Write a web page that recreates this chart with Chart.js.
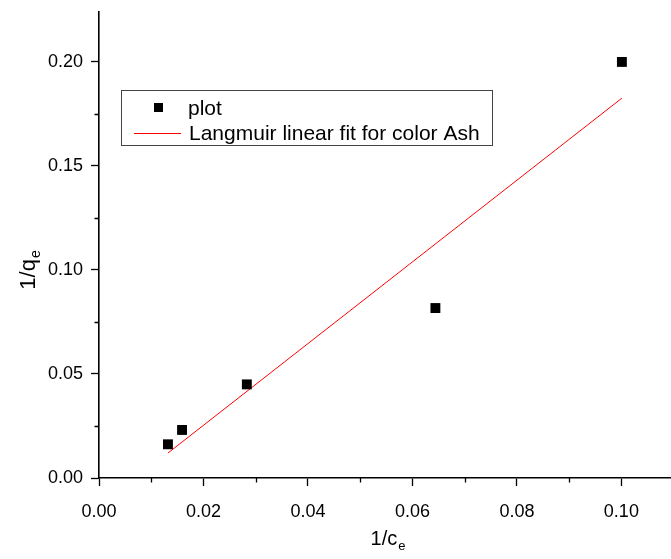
<!DOCTYPE html>
<html lang="en">
<head>
<meta charset="UTF-8">
<title>Langmuir linear fit for color Ash</title>
<script src="https://cdn.jsdelivr.net/npm/chart.js"></script>
<style>
  body { margin: 0; background: #fff; }
  #wrap { width: 671px; height: 559px; }
</style>
</head>
<body>
<div id="wrap"><canvas id="myChart"></canvas></div>
<script>
  // values
  const plotX = [0.0132, 0.0159, 0.0283, 0.0644, 0.1001];
  const plotY = [0.0162, 0.0231, 0.0450, 0.0817, 0.2000];
  const fitX = [0.0132, 0.1001];
  const fitY = [0.0120, 0.1826];

  const xTicks = [0, 0.02, 0.04, 0.06, 0.08, 0.10];
  const yTicks = [0, 0.05, 0.10, 0.15, 0.20];
  const xMinor = [0.01, 0.03, 0.05, 0.07, 0.09];
  const yMinor = [0.025, 0.075, 0.125, 0.175];

  const FONT = "'Liberation Sans', Arial, sans-serif";
  Chart.defaults.font.family = FONT;
  Chart.defaults.color = '#000';

  // keep the plot area fixed: no extra room for half-labels
  function noPad(s) {
    s.paddingLeft = 0; s.paddingRight = 0;
    s.paddingTop = 0; s.paddingBottom = 0;
  }

  const minorTicks = {
    id: 'minorTicks',
    afterDraw(chart) {
      const ctx = chart.ctx;
      const xs = chart.scales.x, ys = chart.scales.y;
      ctx.save();
      ctx.strokeStyle = '#000';
      ctx.lineWidth = 1.3;
      ctx.beginPath();
      xMinor.forEach(v => {
        const px = Math.round(xs.getPixelForValue(v)) + 0.5;
        ctx.moveTo(px, xs.top);
        ctx.lineTo(px, xs.top + 4.5);
      });
      yMinor.forEach(v => {
        const py = Math.round(ys.getPixelForValue(v)) + 0.5;
        ctx.moveTo(ys.right, py);
        ctx.lineTo(ys.right - 4.5, py);
      });
      ctx.stroke();
      ctx.restore();
    }
  };

  const axisTitles = {
    id: 'axisTitles',
    afterDraw(chart) {
      const ctx = chart.ctx;
      const area = chart.chartArea;
      ctx.save();
      ctx.fillStyle = '#000';
      ctx.textBaseline = 'alphabetic';
      ctx.textAlign = 'left';

      // x title: 1/c with subscript e
      ctx.font = '20px ' + FONT;
      const wx = ctx.measureText('1/c').width;
      ctx.font = '13px ' + FONT;
      const wsx = ctx.measureText('e').width;
      const cx = 388 - (wx + wsx + 1) / 2;
      const by = area.bottom + 67;
      ctx.font = '20px ' + FONT;
      ctx.fillText('1/c', cx, by);
      ctx.font = '13px ' + FONT;
      ctx.fillText('e', cx + wx + 1, by + 5);

      // y title: 1/q with subscript e, rotated
      ctx.translate(35, 270);
      ctx.rotate(-Math.PI / 2);
      ctx.font = '22px ' + FONT;
      const wy = ctx.measureText('1/q').width;
      ctx.font = '14px ' + FONT;
      const wsy = ctx.measureText('e').width;
      const sx = -(wy + wsy + 1) / 2;
      ctx.font = '22px ' + FONT;
      ctx.fillText('1/q', sx, 0);
      ctx.font = '14px ' + FONT;
      ctx.fillText('e', sx + wy + 1, 5);
      ctx.restore();
    }
  };

  const boxLegend = {
    id: 'boxLegend',
    afterDraw(chart) {
      const ctx = chart.ctx;
      const ds = chart.data.datasets;
      ctx.save();
      ctx.strokeStyle = '#444';
      ctx.lineWidth = 1;
      ctx.strokeRect(121.5, 90.5, 371, 55);

      // row 1: square marker
      ctx.fillStyle = '#000';
      ctx.fillRect(154, 103, 9, 9);
      ctx.font = '21px ' + FONT;
      ctx.textBaseline = 'alphabetic';
      ctx.fillText(ds[0].label, 188, 115);

      // row 2: red line
      ctx.strokeStyle = ds[1].borderColor;
      ctx.beginPath();
      ctx.moveTo(134, 133.5);
      ctx.lineTo(181, 133.5);
      ctx.stroke();
      ctx.fillText(ds[1].label, 189, 139.5);
      ctx.restore();
    }
  };

  const ctx = document.getElementById('myChart');
  new Chart(ctx, {
    type: 'scatter',
    data: {
      datasets: [
        {
          label: 'plot',
          data: plotX.map((x, i) => ({ x: x, y: plotY[i] })),
          pointStyle: 'rect',
          pointRadius: 7,
          pointHoverRadius: 7,
          backgroundColor: '#000',
          borderColor: '#000',
          pointBorderWidth: 0
        },
        {
          label: 'Langmuir linear fit for color Ash',
          data: fitX.map((x, i) => ({ x: x, y: fitY[i] })),
          showLine: true,
          pointRadius: 0,
          borderColor: '#ff0000',
          borderWidth: 1
        }
      ]
    },
    options: {
      responsive: true,
      maintainAspectRatio: false,
      animation: false,
      layout: { autoPadding: false, padding: { top: 12, right: 0, left: 0, bottom: 0 } },
      plugins: {
        legend: { display: false },
        tooltip: { enabled: false }
      },
      scales: {
        x: {
          type: 'linear',
          min: 0,
          max: 0.1095,
          afterBuildTicks: s => { s.ticks = xTicks.map(v => ({ value: v })); },
          afterFit: s => { s.height = 81; noPad(s); },
          ticks: {
            callback: v => v.toFixed(2),
            font: { size: 18 },
            padding: 15,
            maxRotation: 0
          },
          grid: {
            drawOnChartArea: false,
            tickLength: 8,
            tickColor: '#000',
            tickWidth: 1.3
          },
          border: { color: '#000', width: 1.6 }
        },
        y: {
          type: 'linear',
          min: 0,
          max: 0.224,
          afterBuildTicks: s => { s.ticks = yTicks.map(v => ({ value: v })); },
          afterFit: s => { s.width = 99; noPad(s); },
          ticks: {
            callback: v => v.toFixed(2),
            font: { size: 18 },
            padding: 8
          },
          grid: {
            drawOnChartArea: false,
            tickLength: 8,
            tickColor: '#000',
            tickWidth: 1.3
          },
          border: { color: '#000', width: 1.6 }
        }
      }
    },
    plugins: [minorTicks, axisTitles, boxLegend]
  });
</script>
</body>
</html>
